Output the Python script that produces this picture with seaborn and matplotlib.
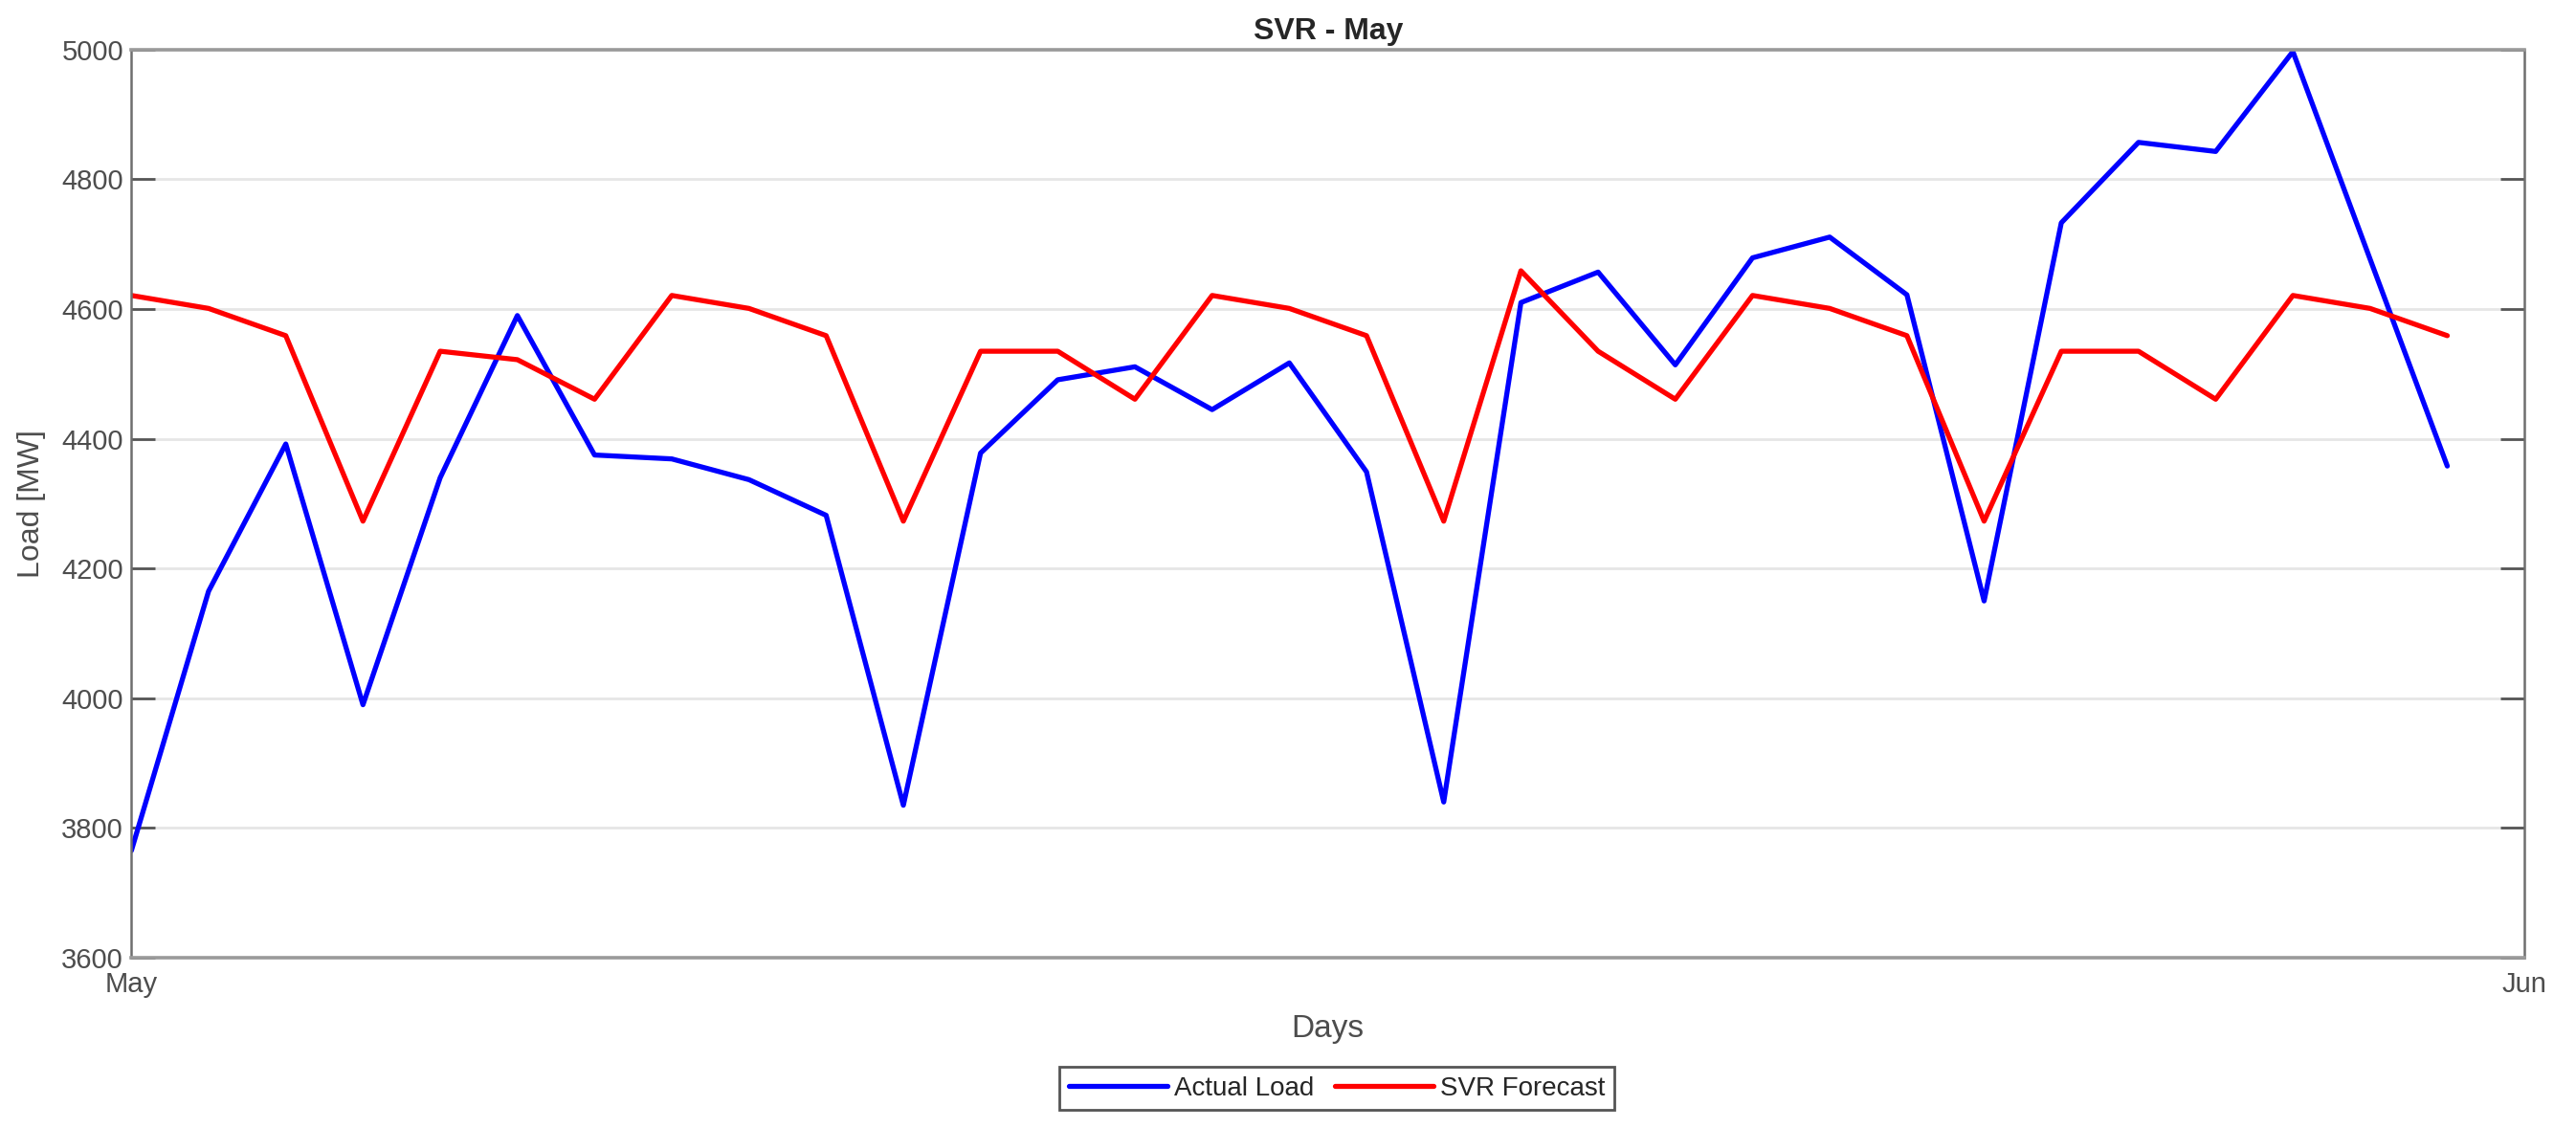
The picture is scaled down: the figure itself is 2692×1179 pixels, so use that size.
import numpy as np
import pandas as pd
import matplotlib
matplotlib.use('Agg')
import matplotlib.pyplot as plt
import seaborn as sns

# daily values for May (1st .. 31st)
days = pd.date_range('2016-05-01', periods=31, freq='D')
actual_load = [3765, 4165, 4392, 3990, 4340, 4590, 4375, 4369, 4337, 4282,
               3835, 4378, 4491, 4511, 4445, 4517, 4349, 3840, 4610, 4657,
               4514, 4679, 4711, 4622, 4150, 4733, 4857, 4843, 4997, 4677,
               4358]
svr_forecast = [4621, 4601, 4559, 4273, 4535, 4522, 4461, 4621, 4601, 4559,
                4273, 4535, 4535, 4461, 4621, 4601, 4559, 4273, 4659, 4535,
                4461, 4621, 4601, 4559, 4273, 4535, 4535, 4461, 4621, 4601,
                4559]
y_ticks = [3600, 3800, 4000, 4200, 4400, 4600, 4800, 5000]
x_ticks = ['2016-05-01', '2016-06-01']
x_tick_labels = ['May', 'Jun']

df = pd.DataFrame({'Days': days, 'Actual Load': actual_load, 'SVR Forecast': svr_forecast})

sns.set_style('white')
plt.rcParams['font.family'] = ['Liberation Sans', 'DejaVu Sans']

fig = plt.figure(figsize=(13.46, 5.895), dpi=200)
ax = fig.add_axes([0.051, 0.151, 0.929, 0.805])

sns.lineplot(data=df, x='Days', y='Actual Load', color='#0000ff', lw=1.9, ax=ax, label='Actual Load')
sns.lineplot(data=df, x='Days', y='SVR Forecast', color='#ff0000', lw=1.9, ax=ax, label='SVR Forecast')

ax.set_xlim(pd.Timestamp(x_ticks[0]), pd.Timestamp(x_ticks[1]))
ax.set_ylim(3600, 5000)
ax.set_yticks(y_ticks)
ax.set_xticks([pd.Timestamp(t) for t in x_ticks])
ax.set_xticklabels(x_tick_labels)

# matlab-ish look
ax.grid(axis='y', color='#e6e6e6', lw=1)
ax.grid(axis='x', visible=False)
ax.set_axisbelow(True)
for s in ax.spines.values():
    s.set_visible(True)
    s.set_color('#6e6e6e')
    s.set_linewidth(0.9)
ax.spines['top'].set_color('#9a9a9a')
ax.spines['bottom'].set_color('#9a9a9a')
ax.spines['top'].set_linewidth(1.3)
ax.spines['bottom'].set_linewidth(1.3)
ax.tick_params(axis='y', direction='in', length=9, width=1, colors='#555555',
               labelsize=10.5, right=True, left=True, pad=3)
ax.tick_params(axis='y', labelcolor='#4d4d4d')
ax.tick_params(axis='x', direction='in', length=0, labelsize=10.5, labelcolor='#4d4d4d', pad=5)

ax.set_title('SVR - May', fontsize=11.5, fontweight='bold', pad=4)
ax.set_xlabel('Days', fontsize=12, color='#4d4d4d', labelpad=6)
ax.set_ylabel('Load [MW]', fontsize=11.5, color='#4d4d4d', labelpad=6)

ax.legend(loc='center', bbox_to_anchor=(0.519, 0.035), bbox_transform=fig.transFigure,
          ncol=2, frameon=True, fancybox=False, edgecolor='#555555', fontsize=10,
          handlelength=3.7, handletextpad=0.25, columnspacing=0.8, borderpad=0.35,
          framealpha=1)
ax.get_legend().get_frame().set_linewidth(1)

plt.savefig('out.png', dpi=200)
